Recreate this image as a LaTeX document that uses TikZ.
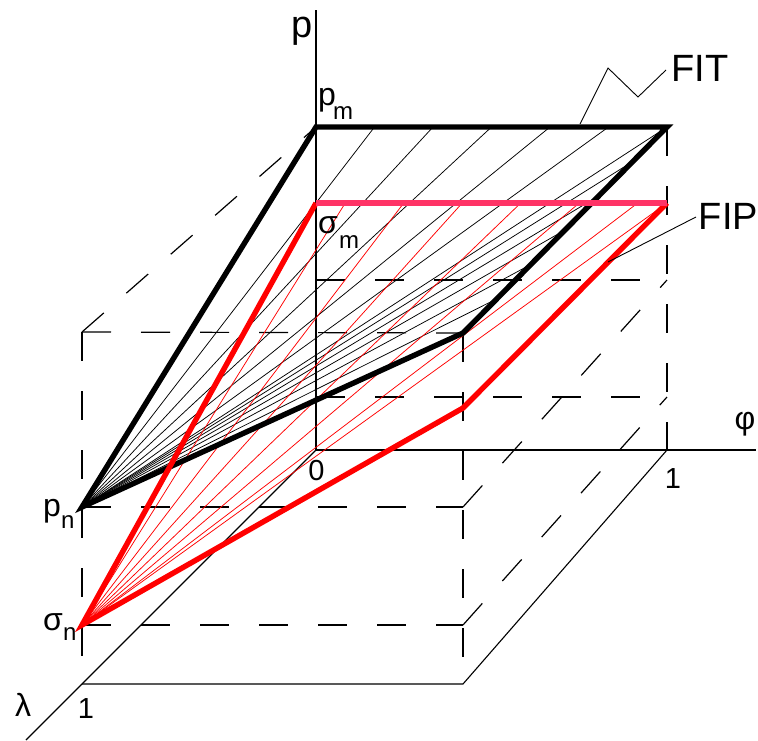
\documentclass[tikz,border=0pt]{standalone}
\usepackage{fontspec}
\setmainfont{Liberation Sans}
\usetikzlibrary{calc}
\definecolor{pinkline}{RGB}{255,51,102}
\tikzset{
  axisline/.style={line width=1.1pt,black},
  dashline/.style={line width=1.2pt,black,dash pattern=on 29pt off 30pt},
  fanblack/.style={line width=0.75pt,black},
  fanred/.style={line width=0.75pt,red},
  thickblack/.style={line width=5.4pt,black,line join=miter},
  thickred/.style={line width=5.4pt,red,line join=miter},
  thickpink/.style={line width=5.4pt,pinkline},
  leader/.style={line width=0.9pt,black},
  lab/.style={inner sep=0pt,font=\fontsize{32}{32}\selectfont},
  biglab/.style={inner sep=0pt,font=\fontsize{38}{38}\selectfont},
  numlab/.style={inner sep=0pt,font=\fontsize{29}{29}\selectfont},
  sublab/.style={inner sep=0pt,font=\fontsize{24}{24}\selectfont}
}
\begin{document}
\begin{tikzpicture}[x=1pt,y=-1pt]
\useasboundingbox (0,0) rectangle (758,740);
% axes and box corners
\coordinate (O) at (316,450);
\coordinate (Ptop) at (316,10);
\coordinate (Phiend) at (756,450);
\coordinate (Lend) at (26,740);
\coordinate (F1) at (667,450);
\coordinate (L1) at (82,684);
\coordinate (FL1) at (463,684);
% FIT corners
\coordinate (A) at (316,127);
\coordinate (B) at (667,127);
\coordinate (C) at (463,333);
\coordinate (D) at (82,507);
% FIP corners
\coordinate (Am) at (316,203);
\coordinate (Bm) at (667,203);
\coordinate (Cm) at (463,408);
\coordinate (Dn) at (82,625);
% reference levels
\coordinate (FT) at (82,332);
\coordinate (Bk1) at (316,280);
\coordinate (Bk1r) at (667,280);
\coordinate (Bk2) at (316,397);
\coordinate (Bk2r) at (667,397);
\coordinate (Fr1) at (463,507);
\coordinate (Fr2) at (463,625);

% solid thin lines
\draw[axisline] (Ptop) -- (O) -- (Phiend);
\draw[axisline] (O) -- (Lend);
\draw[axisline] (L1) -- (FL1) -- (F1);

% dashed reference lines
\draw[dashline] (FT) -- (L1);
\draw[dashline] (FT) -- (C);
\draw[dashline] (FT) -- (A);
\draw[dashline] (C) -- (FL1);
\draw[dashline] (B) -- (F1);
\draw[dashline] (D) -- (Fr1);
\draw[dashline] (Dn) -- (Fr2);
\draw[dashline] (Bk1) -- (Bk1r);
\draw[dashline] (Bk2) -- (Bk2r);
\draw[dashline] (Fr1) -- (Bk1r);
\draw[dashline] (Fr2) -- (Bk2r);

% black fan (FIT)
\foreach \k in {1,...,5} \draw[fanblack] (D) -- ($(A)!{\k/6}!(B)$);
\draw[fanblack] (D) -- (B);
\foreach \j in {1,...,5} \draw[fanblack] (D) -- ($(B)!{\j/6}!(C)$);

% red fan (FIP)
\foreach \k in {1,...,6} \draw[fanred] (Dn) -- ($(Am)!{(\k-0.5)/6}!(Bm)$);
\draw[fanred] (Dn) -- (Bm);

% thick outlines
\draw[thickblack] (A) -- (B) -- (C) -- (D) -- cycle;
\draw[thickred] (Am) -- (Dn) -- (Cm) -- (Bm);
\draw[thickpink] (Am) -- (Bm);

% labels
\node[biglab,anchor=base] (plab) at (302.5,37) {p};
\node[lab,anchor=base west] (pm) at (318,105) {p};
\node[sublab,anchor=base west] (pmsub) at (333,119) {m};
\node[lab,anchor=base west] (sm) at (318,233) {σ};
\node[sublab,anchor=base west] (smsub) at (339,248) {m};
\node[lab,anchor=base west] (pn) at (43,516) {p};
\node[sublab,anchor=base west] (pnsub) at (61,528) {n};
\node[lab,anchor=base west] (sn) at (43,630) {σ};
\node[sublab,anchor=base west] (snsub) at (63,640) {n};
\node[numlab,anchor=base] (zero) at (316.5,480) {0};
\node[numlab,anchor=base] (onephi) at (673,488) {1};
\node[numlab,anchor=base] (onelam) at (86,718) {1};
\node[lab,anchor=center] (lam) at (23,705) {λ};
\node[lab,anchor=center] (phi) at (745,424.5) {φ};
\node[biglab,anchor=center] (fit) at (700,68.5) {FIT};
\node[biglab,anchor=center] (fip) at (728.5,216.5) {FIP};

% leaders
\coordinate (fitA) at (580,124);
\coordinate (fitB) at (608,68);
\coordinate (fitC) at (638,97);
\coordinate (fitD) at (666,70);
\draw[leader] (fitA) -- (fitB) -- (fitC) -- (fitD);
\coordinate (fipA) at (608,262);
\coordinate (fipB) at (696,217);
\draw[leader] (fipA) -- (fipB);
\end{tikzpicture}
\end{document}
